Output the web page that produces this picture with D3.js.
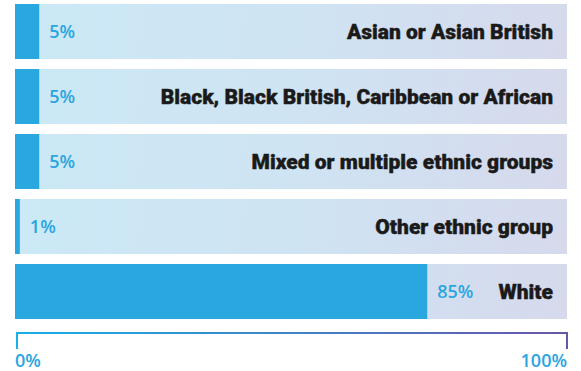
<!DOCTYPE html>
<html>
<head>
<meta charset="utf-8">
<script src="https://cdn.jsdelivr.net/npm/d3@7"></script>
<style>
  body { margin: 0; background: #fff; }
  svg { display: block; }
</style>
</head>
<body>
<div id="chart-area"></div>
<script>
// chart data
let groups = ["Asian or Asian British", "Black, Black British, Caribbean or African",
	"Mixed or multiple ethnic groups", "Other ethnic group", "White"];
let shares = [5, 5, 5, 1, 85];
let axisTicks = ["0%", "100%"];

let width = 581,
	height = 371;

let trackLeft = 15,
	trackRight = 567;

let svg = d3.select("#chart-area")
	.append("svg")
	.attr("width", width)
	.attr("height", height);

let defs = svg.append("defs");

let trackGrad = defs.append("linearGradient")
	.attr("id", "track-grad")
	.attr("gradientUnits", "userSpaceOnUse")
	.attr("x1", trackLeft).attr("y1", 0)
	.attr("x2", trackRight).attr("y2", 60);
trackGrad.append("stop").attr("offset", "0%").attr("stop-color", "#cbe9f6");
trackGrad.append("stop").attr("offset", "55%").attr("stop-color", "#cfe3f3");
trackGrad.append("stop").attr("offset", "100%").attr("stop-color", "#d6d9ec");

let axisGrad = defs.append("linearGradient")
	.attr("id", "axis-grad")
	.attr("gradientUnits", "userSpaceOnUse")
	.attr("x1", trackLeft).attr("y1", 0)
	.attr("x2", trackRight).attr("y2", 0);
axisGrad.append("stop").attr("offset", "0%").attr("stop-color", "#17b0e6");
axisGrad.append("stop").attr("offset", "100%").attr("stop-color", "#6a56a8");

// axis scale covers the whole track, bars are drawn a bit shorter like in the source graphic
let axisScale = d3.scaleLinear()
	.domain([0, 100])
	.range([trackLeft, trackRight]);
let barScale = d3.scaleLinear()
	.domain([0, 100])
	.range([trackLeft, trackLeft + 485]);

let yScale = d3.scaleBand()
	.domain(groups)
	.range([4, 319])
	.paddingInner(0.154)
	.paddingOuter(0);

let rows = svg.selectAll("g.row")
	.data(groups.map((g, i) => ({ group: g, value: shares[i] })))
	.enter()
	.append("g")
	.attr("class", "row")
	.attr("transform", d => "translate(0," + yScale(d.group) + ")");

rows.append("rect")
	.attr("x", axisScale(0))
	.attr("width", axisScale(100) - axisScale(0))
	.attr("height", yScale.bandwidth())
	.attr("fill", "url(#track-grad)");

rows.append("rect")
	.attr("x", barScale(0))
	.attr("width", d => barScale(d.value) - barScale(0))
	.attr("height", yScale.bandwidth())
	.attr("fill", "#29a8e0");

rows.append("text")
	.attr("x", d => barScale(d.value) + 10)
	.attr("y", yScale.bandwidth() / 2 + 7)
	.text(d => d.value + "%")
	.attr("fill", "#2aa6df")
	.style("font-family", "'Open Sans', sans-serif")
	.style("font-weight", 600)
	.style("font-size", "18px");

rows.append("text")
	.attr("x", 553)
	.attr("y", yScale.bandwidth() / 2 + 8)
	.attr("text-anchor", "end")
	.text(d => d.group)
	.attr("fill", "#1a1a1a")
	.attr("stroke", "#1a1a1a")
	.attr("stroke-width", 0.4)
	.style("font-family", "Roboto, sans-serif")
	.style("font-weight", 900)
	.style("font-size", "21px")
	.style("letter-spacing", "0px");

// bracket axis
let axisY = 333;
svg.append("path")
	.attr("d", "M" + (axisScale(0) + 2) + "," + (axisY + 16) + "V" + axisY +
		"H" + axisScale(100) + "V" + (axisY + 16))
	.attr("fill", "none")
	.attr("stroke", "url(#axis-grad)")
	.attr("stroke-width", 2);

svg.selectAll("text.tick")
	.data(axisTicks)
	.enter()
	.append("text")
	.attr("class", "tick")
	.attr("x", (d, i) => axisScale(i * 100))
	.attr("y", 367)
	.attr("text-anchor", (d, i) => i === 0 ? "start" : "end")
	.text(d => d)
	.attr("fill", "#2aa6df")
	.style("font-family", "'Open Sans', sans-serif")
	.style("font-weight", 600)
	.style("font-size", "18px");
</script>
</body>
</html>
